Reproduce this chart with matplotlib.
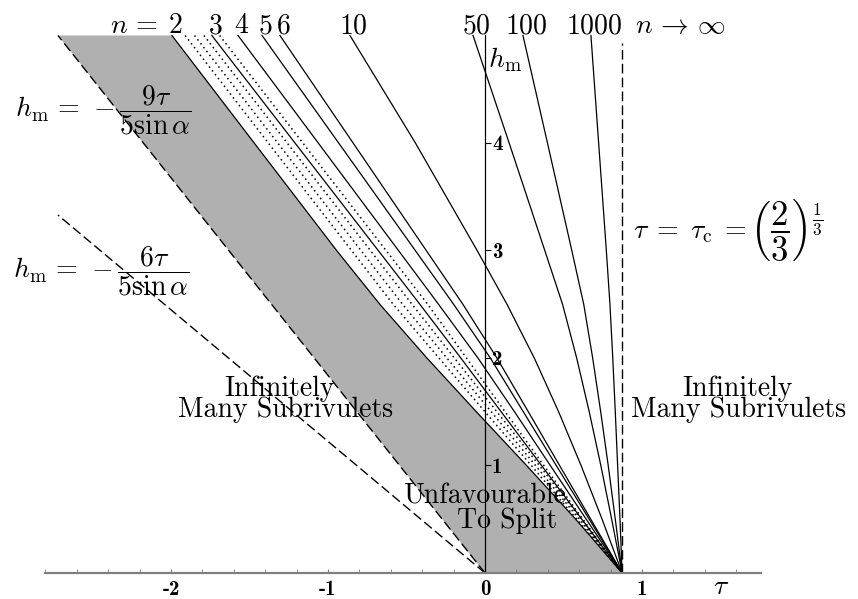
import numpy as np
import matplotlib as mpl
import matplotlib.pyplot as plt

mpl.rcParams['mathtext.fontset'] = 'cm'
mpl.rcParams['axes.unicode_minus'] = False

# ---------------- data ----------------
tau_c = (2.0 / 3.0) ** (1.0 / 3.0)

# heights at which the tau position of every n-curve was read
h_levels = [5.0, 4.0, 3.0, 2.5, 2.0, 1.5, 1.0, 0.5, 0.0]

n_labels = ['2', '3', '4', '5', '6', '10', '50', '100', '1000']
tau_n2 = [-1.994, -1.47, -0.945, -0.67, -0.37, -0.055, 0.265, 0.578, tau_c]
tau_n3 = [-1.74, -1.21, -0.68, -0.415, -0.154, 0.103, 0.36, 0.617, tau_c]
tau_n4 = [-1.573, -1.062, -0.551, -0.296, -0.045, 0.188, 0.416, 0.645, tau_c]
tau_n5 = [-1.42, -0.932, -0.444, -0.20, 0.034, 0.244, 0.454, 0.664, tau_c]
tau_n6 = [-1.306, -0.84, -0.374, -0.141, 0.076, 0.276, 0.475, 0.674, tau_c]
tau_n10 = [-0.86, -0.443, -0.05, 0.14, 0.314, 0.469, 0.612, 0.746, tau_c]
tau_n50 = [-0.076, 0.154, 0.381, 0.494, 0.584, 0.664, 0.738, 0.807, tau_c]
tau_n100 = [0.242, 0.398, 0.553, 0.629, 0.686, 0.737, 0.785, 0.830, tau_c]
tau_n1000 = [0.675, 0.724, 0.773, 0.796, 0.814, 0.830, 0.845, 0.860, tau_c]
n_curves = [tau_n2, tau_n3, tau_n4, tau_n5, tau_n6, tau_n10,
            tau_n50, tau_n100, tau_n1000]

# intermediate (dotted) curves between n=2 and n=4
tau_d1 = [-1.91, -1.38, -0.85, -0.585, -0.293, 0.0, 0.295, 0.585, tau_c]
tau_d2 = [-1.85, -1.32, -0.79, -0.525, -0.243, 0.04, 0.322, 0.60, tau_c]
tau_d3 = [-1.79, -1.26, -0.73, -0.465, -0.195, 0.076, 0.346, 0.612, tau_c]
tau_d4 = [-1.69, -1.16, -0.63, -0.365, -0.118, 0.128, 0.375, 0.624, tau_c]
dotted_curves = [tau_d1, tau_d2, tau_d3, tau_d4]

# h_m = -9 tau / (5 sin a) and h_m = -6 tau / (5 sin a)
tau_9 = [0.0, -2.72]
h_9 = [0.0, 5.0]
tau_6 = [0.0, -2.72]
h_6 = [0.0, 3.33]

# vertical line tau = tau_c
h_inf = [0.0, 4.93]

# ---------------- figure ----------------
fig = plt.figure(figsize=(8.58, 5.99), dpi=100)
ax = fig.add_axes([0, 0, 1, 1])
ax.set_xlim(-3.089, 2.376)
ax.set_ylim(-0.242, 5.330)

# shaded region: between the 9tau line and the n = 2 curve
poly_x = tau_9 + tau_n2 + [0.0]
poly_y = h_9 + h_levels + [0.0]
ax.fill(poly_x, poly_y, color='#b0b0b0', lw=0, zorder=1)

dash = (0, (7, 3))
ax.plot(tau_9, h_9, color='black', lw=1.0, ls=dash, zorder=2)
ax.plot(tau_6, h_6, color='black', lw=1.0, ls=dash, zorder=2)
ax.plot([tau_c, tau_c], h_inf, color='black', lw=1.0, ls=dash, zorder=2)

for tt in n_curves:
    ax.plot(tt, h_levels, color='black', lw=0.9, zorder=2)
for tt in dotted_curves:
    ax.plot(tt, h_levels, color='black', lw=1.1, ls=(0, (1, 2.2)), zorder=2)

# axes through the origin
for s in ['top', 'left']:
    ax.spines[s].set_visible(False)
ax.spines['bottom'].set_position(('data', 0))
ax.spines['bottom'].set_bounds(-2.8, 1.76)
ax.spines['bottom'].set_color('#7f7f7f')
ax.spines['bottom'].set_linewidth(1.6)
ax.spines['right'].set_position(('data', 0))
ax.spines['right'].set_bounds(0, 5.0)
ax.spines['right'].set_linewidth(0.9)
ax.spines['right'].set_zorder(2.5)

tick_font = dict(family='cmb10', size=15)
ax.xaxis.set_ticks_position('bottom')
ax.set_xticks([-2, -1, 0, 1])
ax.set_xticklabels(['-2', '-1', '0', '1'], fontdict=tick_font)
ax.set_xticks(np.arange(-2.8, 1.61, 0.2), minor=True)
ax.tick_params(axis='x', which='both', direction='in', length=3,
               color='#7f7f7f', pad=5)

ax.yaxis.set_ticks_position('right')
ax.set_yticks([1, 2, 3, 4])
ax.set_yticklabels(['1', '2', '3', '4'], fontdict=tick_font)
ax.tick_params(axis='y', direction='out', length=4, pad=1)

# ---------------- text ----------------
fs = 20
y_top = 5.023
ax.text(-2.083, y_top, r'$n\,=$', fontsize=fs, ha='right', va='baseline')
for lab, tt in zip(n_labels, n_curves):
    ax.text(tt[0] + 0.02, y_top, '$' + lab + '$', fontsize=fs, ha='center', va='baseline')
ax.text(0.955, y_top, r'$n \,\rightarrow\, \infty$', fontsize=fs, ha='left', va='baseline')

ax.text(0.02, 4.70, r'$h_\mathrm{m}$', fontsize=fs, ha='left', va='baseline')
ax.text(1.503, -0.20, r'$\tau$', fontsize=fs, ha='center', va='baseline')

ax.text(-2.994, 4.245, r'$h_\mathrm{m} \,=\, -\dfrac{9\tau}{5\sin\alpha}$',
        fontsize=fs, ha='left', va='baseline')
ax.text(-3.004, 2.744, r'$h_\mathrm{m} \,=\, -\dfrac{6\tau}{5\sin\alpha}$',
        fontsize=fs, ha='left', va='baseline')
ax.text(0.943, 3.11, r'$\tau \;=\; \tau_\mathrm{c} \;=$',
        fontsize=fs, ha='left', va='baseline')
ax.text(1.688, 3.11, r'$\left(\dfrac{2}{3}\right)^{\frac{1}{3}}$',
        fontsize=25, ha='left', va='baseline')

txt = dict(family='cmr10', size=fs, ha='center', va='baseline')
ax.text(-1.312, 1.643, 'Infinitely', **txt)
ax.text(-1.268, 1.455, 'Many Subrivulets', **txt)
ax.text(1.611, 1.643, 'Infinitely', **txt)
ax.text(1.618, 1.455, 'Many Subrivulets', **txt)
ax.text(-0.006, 0.645, 'Unfavourable', **txt)
ax.text(0.138, 0.42, 'To Split', **txt)

fig.savefig('out.png', dpi=100)
